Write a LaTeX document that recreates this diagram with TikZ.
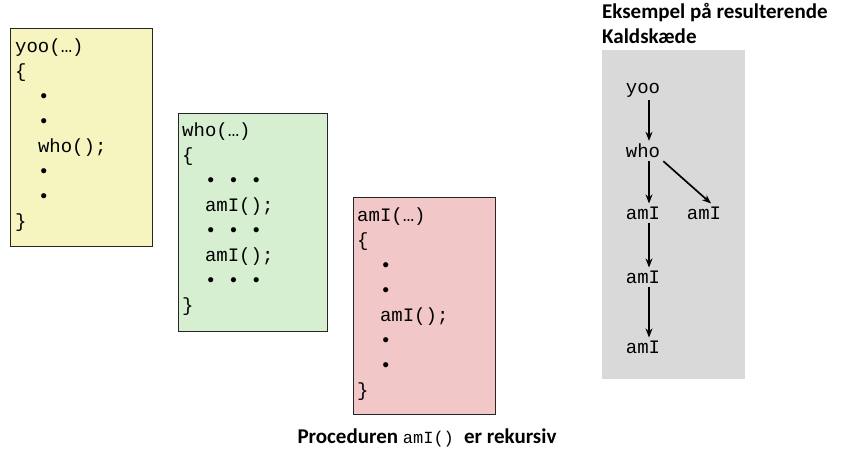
\documentclass[tikz,border=0pt]{standalone}
\usepackage{fontspec}
\setmainfont{Carlito}
\setmonofont{Liberation Mono}
\usetikzlibrary{arrows.meta}

\definecolor{yoofill}{HTML}{F6F4BF}
\definecolor{whofill}{HTML}{D7EFD1}
\definecolor{amifill}{HTML}{F1C7C7}
\definecolor{chainfill}{HTML}{D9D9D9}

\begin{document}
\begin{tikzpicture}
      [x=1pt, y=-1pt,
      frame/.style={draw=black!85, line width=0.9pt, anchor=north west, inner sep=0pt},
      code/.style={anchor=north west, align=left, inner sep=0pt,
        font=\ttfamily\fontsize{19}{25}\selectfont},
      call/.style={font=\ttfamily\fontsize{19}{25}\selectfont, inner sep=3pt},
      arr/.style={-{Stealth[length=9pt,width=7pt]}, line width=1.7pt},
      heading/.style={font=\bfseries\fontsize{21}{25}\selectfont, inner sep=0pt}]
      \useasboundingbox (0,0) rectangle (843,453);
      % the three procedure frames
      \node (yooframe) at (10,28) [frame, fill=yoofill, minimum width=142, minimum height=218] {};
      \node (whoframe) at (178,113) [frame, fill=whofill, minimum width=149, minimum height=218] {};
      \node (amiframe) at (353,197) [frame, fill=amifill, minimum width=142, minimum height=217] {};
      \node (yoocode) at (15,39) [code] {yoo(…)\\\{\\\ \ •\\\ \ •\\\ \ who();\\\ \ •\\\ \ •\\\}};
      \node (whocode) at (182,123) [code] {who(…)\\\{\\\ \ • • •\\\ \ amI();\\\ \ • • •\\\ \ amI();\\\ \ • • •\\\}};
      \node (amicode) at (357,208) [code] {amI(…)\\\{\\\ \ •\\\ \ •\\\ \ amI();\\\ \ •\\\ \ •\\\}};
      \node (caption) at (427,438) [heading] {Proceduren {\mdseries\ttfamily\fontsize{17}{25}\selectfont amI()\ }er rekursiv};
      % the resulting call chain
      \node (title) at (602,3) [heading, anchor=north west, align=left] {Eksempel på resulterende\\Kaldskæde};
      \node (chain) at (602,50) [anchor=north west, fill=chainfill, inner sep=0pt,
        minimum width=143, minimum height=329] {};
      \node (yoo) at (643,90) [call] {yoo};
      \node (who) at (643,151) [call] {who};
      \node (ami1) at (643,213) [call] {amI};
      \node (ami2) at (704,213) [call] {amI};
      \node (ami3) at (643,277) [call] {amI};
      \node (ami4) at (643,347) [call] {amI};
      \draw[arr] ([xshift=6]yoo.south) -- ([xshift=6]who.north);
      \draw[arr] ([xshift=6]who.south) -- ([xshift=6]ami1.north);
      \draw[arr] (who.south east) -- ([xshift=7]ami2.north);
      \draw[arr] ([xshift=6]ami1.south) -- ([xshift=6]ami3.north);
      \draw[arr] ([xshift=6]ami3.south) -- ([xshift=6]ami4.north);
\end{tikzpicture}
\end{document}
